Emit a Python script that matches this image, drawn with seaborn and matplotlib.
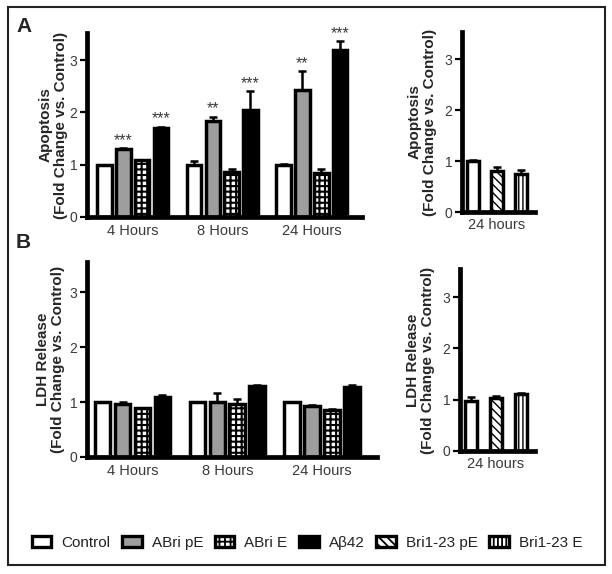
import numpy as np
import pandas as pd
import matplotlib
matplotlib.use("Agg")
import matplotlib.pyplot as plt
from matplotlib.patches import Patch, Rectangle
from matplotlib.font_manager import FontProperties
import seaborn as sns

# ---------------- data ----------------
times = ["4 Hours", "8 Hours", "24 Hours"]
groups = ["Control", "ABri pE", "ABri E", "Aβ42"]
right_groups = ["Control", "Bri1-23 pE", "Bri1-23 E"]
right_time = ["24 hours"]

apop_control = [1.00, 1.00, 1.00]
apop_control_err = [0.00, 0.07, 0.02]
apop_abri_pe = [1.30, 1.84, 2.42]
apop_abri_pe_err = [0.02, 0.08, 0.37]
apop_abri_e = [1.09, 0.87, 0.84]
apop_abri_e_err = [0.00, 0.05, 0.08]
apop_ab42 = [1.70, 2.04, 3.20]
apop_ab42_err = [0.03, 0.37, 0.17]
apop_stars_pe = ["***", "**", "**"]
apop_stars_ab42 = ["***", "***", "***"]

apop_right = [1.00, 0.80, 0.75]
apop_right_err = [0.02, 0.08, 0.08]

ldh_control = [1.00, 1.00, 1.00]
ldh_control_err = [0.00, 0.01, 0.01]
ldh_abri_pe = [0.96, 1.01, 0.93]
ldh_abri_pe_err = [0.05, 0.15, 0.02]
ldh_abri_e = [0.89, 0.97, 0.86]
ldh_abri_e_err = [0.00, 0.09, 0.01]
ldh_ab42 = [1.10, 1.30, 1.27]
ldh_ab42_err = [0.03, 0.01, 0.04]

ldh_right = [0.98, 1.03, 1.11]
ldh_right_err = [0.08, 0.05, 0.02]

ylabel_apop = "Apoptosis\n(Fold Change vs. Control)"
ylabel_ldh = "LDH Release\n(Fold Change vs. Control)"
yticks = [0, 1, 2, 3]

# ---------------- style ----------------
fills = {"Control": "white", "ABri pE": "#9e9e9e", "ABri E": "white",
         "Aβ42": "black", "Bri1-23 pE": "white", "Bri1-23 E": "white"}
hatches = {"ABri E": "+++", "Bri1-23 pE": "\\\\\\\\", "Bri1-23 E": "||||"}

sns.set_style("ticks")
plt.rcParams["font.family"] = ["Liberation Sans", "DejaVu Sans"]
plt.rcParams["hatch.linewidth"] = 1.3
plt.rcParams["hatch.color"] = "black"

EDGE_LW = 2.5
SPINE_LW = 3.4
TICK_COLOR = "#3a3a3a"

fig = plt.figure(figsize=(6.12, 5.74), dpi=100)
W, H = 612.0, 574.0


def px_axes(left, right, top, bottom):
    return fig.add_axes([left / W, 1 - bottom / H, (right - left) / W, (bottom - top) / H])


def style_axes(ax, ymax):
    ax.set_ylim(0, ymax)
    ax.set_yticks(yticks)
    ax.set_yticklabels([str(t) for t in yticks])
    sns.despine(ax=ax)
    for s in ["left", "bottom"]:
        ax.spines[s].set_linewidth(SPINE_LW)
        ax.spines[s].set_color("black")
    ax.tick_params(axis="y", length=5, width=1.6, pad=2, labelsize=10,
                   labelcolor=TICK_COLOR, color="black")
    ax.tick_params(axis="x", length=0, pad=5, labelsize=10.5, labelcolor=TICK_COLOR)
    ax.set_xlabel("")


def draw_bars(ax, df, order, hue_order, width, gap, errs, stars=None):
    sns.barplot(data=df, x="cat", y="value", hue="group", order=order,
                hue_order=hue_order, palette=fills, edgecolor="black",
                linewidth=EDGE_LW, width=width, gap=gap, errorbar=None,
                legend=False, saturation=1, ax=ax)
    conts = sorted(ax.containers, key=lambda c: c.patches[0].get_x())
    for g, cont, e_list in zip(hue_order, conts, errs):
        bars = sorted(cont.patches, key=lambda p: p.get_x())
        for i, (bar, e) in enumerate(zip(bars, e_list)):
            if g in hatches:
                bar.set_hatch(hatches[g])
                try:
                    bar.set_hatch_linewidth(1.0 if g != "ABri E" else 1.5)
                except Exception:
                    pass
            xc = bar.get_x() + bar.get_width() / 2
            top = bar.get_height()
            if e > 0:
                ax.errorbar([xc], [top], yerr=[[0], [e]], fmt="none", ecolor="black",
                            elinewidth=1.8, capsize=3.2, capthick=1.8, zorder=3)
            if stars is not None and g in stars:
                ax.text(xc, top + e + 0.0, stars[g][i], ha="center", va="bottom",
                        fontsize=11.5, color=TICK_COLOR, clip_on=False)


def long_df(cats, hue_levels, series):
    rows = []
    for g, vals in zip(hue_levels, series):
        for c, v in zip(cats, vals):
            rows.append({"cat": c, "group": g, "value": v})
    return pd.DataFrame(rows)


# ---------------- Panel A main ----------------
axA = px_axes(87, 362, 33, 217)
dfA = long_df(times, groups, [apop_control, apop_abri_pe, apop_abri_e, apop_ab42])
draw_bars(axA, dfA, times, groups, 0.84, 0.22,
          [apop_control_err, apop_abri_pe_err, apop_abri_e_err, apop_ab42_err],
          stars={"ABri pE": apop_stars_pe, "Aβ42": apop_stars_ab42})
style_axes(axA, 3.52)
axA.set_xlim(-0.51, 2.56)
axA.set_ylabel(ylabel_apop, fontsize=11, fontweight="bold", linespacing=1.1)
axA.yaxis.set_label_coords(-19 / 275, 0.5)

# ---------------- Panel A right ----------------
axAr = px_axes(462, 535, 32, 212)
dfAr = long_df(right_time, right_groups, [[v] for v in apop_right])
draw_bars(axAr, dfAr, right_time, right_groups, 1.0, 0.5,
          [[e] for e in apop_right_err])
style_axes(axAr, 3.54)
axAr.set_xlim(-0.48, 0.52)
axAr.tick_params(axis="x", pad=4)
axAr.set_ylabel(ylabel_apop, fontsize=11, fontweight="bold", linespacing=1.1)
axAr.yaxis.set_label_coords(-25 / 73, 0.5)

# ---------------- Panel B main ----------------
axB = px_axes(87, 377, 262, 457)
dfB = long_df(times, groups, [ldh_control, ldh_abri_pe, ldh_abri_e, ldh_ab42])
draw_bars(axB, dfB, times, groups, 0.84, 0.22,
          [ldh_control_err, ldh_abri_pe_err, ldh_abri_e_err, ldh_ab42_err])
style_axes(axB, 3.55)
axB.set_xlim(-0.48, 2.58)
axB.set_ylabel(ylabel_ldh, fontsize=11, fontweight="bold", linespacing=1.1)
axB.yaxis.set_label_coords(-22 / 290, 0.5)

# ---------------- Panel B right ----------------
axBr = px_axes(460, 535, 269, 451)
dfBr = long_df(right_time, right_groups, [[v] for v in ldh_right])
draw_bars(axBr, dfBr, right_time, right_groups, 1.0, 0.5,
          [[e] for e in ldh_right_err])
style_axes(axBr, 3.55)
axBr.set_xlim(-0.48, 0.52)
axBr.tick_params(axis="x", pad=4)
axBr.set_ylabel(ylabel_ldh, fontsize=11, fontweight="bold", linespacing=1.1)
axBr.yaxis.set_label_coords(-25 / 75, 0.5)

# ---------------- panel letters ----------------
fig.text(16 / W, 1 - 17 / H, "A", fontsize=15, fontweight="bold", va="top", ha="left")
fig.text(16 / W, 1 - 233 / H, "B", fontsize=15, fontweight="bold", va="top", ha="left")

# ---------------- legend ----------------
legend_groups = groups + right_groups[1:]
handles = [Patch(facecolor=fills[g], edgecolor="black", linewidth=2.4,
                 hatch=hatches.get(g, None), label=g) for g in legend_groups]
leg = fig.legend(handles=handles, labels=legend_groups, loc="center",
                 bbox_to_anchor=(307 / W, 1 - 543 / H), ncol=6, frameon=False,
                 prop=FontProperties(family=["Liberation Sans"], size=11),
                 handlelength=1.3, handleheight=0.72, handletextpad=0.65,
                 columnspacing=0.75, borderpad=0)
for t in leg.get_texts():
    t.set_color("#222222")

# ---------------- outer frame ----------------
fig.add_artist(Rectangle((8 / W, 1 - 565 / H), 597 / W, 558 / H,
                         transform=fig.transFigure, fill=False, lw=1.5,
                         edgecolor="#222222"))

fig.savefig("out.png", dpi=100)
